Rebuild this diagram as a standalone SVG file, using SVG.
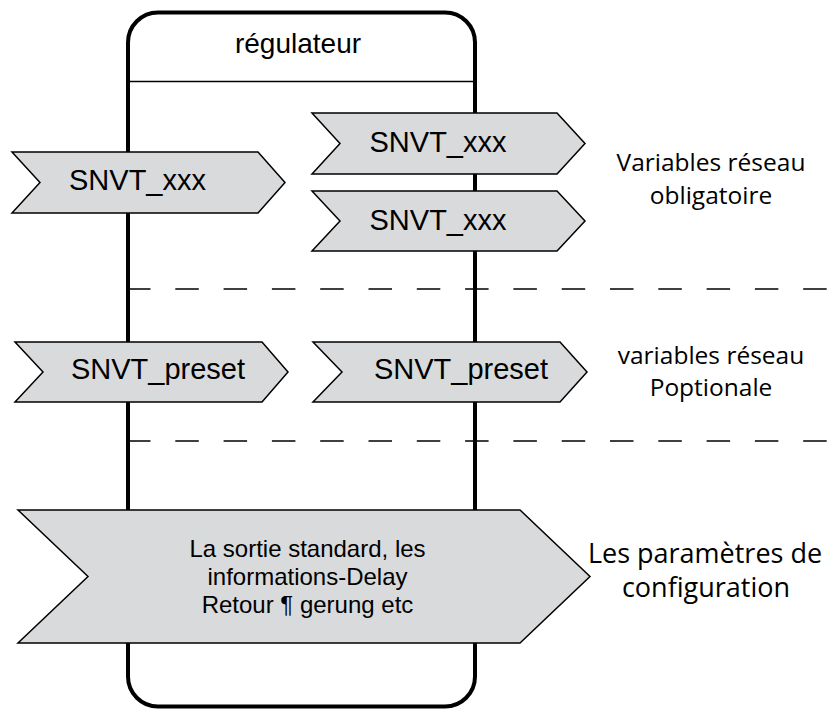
<svg xmlns="http://www.w3.org/2000/svg" width="830" height="711" viewBox="0 0 830 711">
<style>
.chev{fill:#d9dadc;stroke:#000;stroke-width:1.5;stroke-linejoin:miter}
.lbl{font-family:"Liberation Sans",Arial,sans-serif;fill:#000;text-anchor:middle}
.big{font-size:29px}
.side{font-family:"Open Sans","Noto Sans",sans-serif;font-size:24.5px;fill:#000;text-anchor:middle}
.side.lg{font-size:27px}
.dash{stroke:#000;stroke-width:1.5;stroke-dasharray:23.5 24.8;fill:none}
</style>
<rect width="830" height="711" fill="#fff"/>
<g id="regulateur">
<rect x="128" y="12.5" width="347" height="694" rx="30" ry="30" fill="#fff" stroke="#000" stroke-width="4"/>
<line x1="128" y1="81.5" x2="475" y2="81.5" stroke="#000" stroke-width="1.5"/>
<text class="lbl" x="298" y="53" font-size="28">régulateur</text>
</g>
<g id="separators">
<line class="dash" x1="127" y1="289" x2="830" y2="289"/>
<line class="dash" x1="127" y1="441" x2="830" y2="441"/>
</g>
<g id="connectors"></g>
<g id="in-xxx">
<polygon class="chev" points="12,152 258,152 285,182.5 258,213 12,213 40,182.5"/>
<text class="lbl big" x="137.5" y="190">SNVT_xxx</text>
</g>
<g id="out-xxx-1">
<polygon class="chev" points="312,113 557,113 585,143.5 557,174 312,174 340,143.5"/>
<text class="lbl big" x="438" y="152">SNVT_xxx</text>
</g>
<g id="out-xxx-2">
<polygon class="chev" points="312,191 557,191 585,221 557,251 312,251 340,221"/>
<text class="lbl big" x="438" y="230">SNVT_xxx</text>
</g>
<g id="in-preset">
<polygon class="chev" points="15,342 262,342 288,372 262,402 15,402 43,372"/>
<text class="lbl big" x="158" y="379">SNVT_preset</text>
</g>
<g id="out-preset">
<polygon class="chev" points="313,342 560,342 587,372 560,402 313,402 342,372"/>
<text class="lbl big" x="461" y="379">SNVT_preset</text>
</g>
<g id="config">
<polygon class="chev" points="18,510 520,510 590,576.5 520,643 18,643 88,576.5"/>
<text class="lbl" font-size="24" x="307.5" y="557">La sortie standard, les</text>
<text class="lbl" font-size="24" x="307.5" y="585">informations-Delay</text>
<text class="lbl" font-size="24" x="307.5" y="613">Retour ¶ gerung etc</text>
</g>
<g id="label-obligatoire">
<text class="side" x="711" y="171">Variables réseau</text>
<text class="side" x="711" y="204">obligatoire</text>
</g>
<g id="label-optionale">
<text class="side" x="711" y="364">variables réseau</text>
<text class="side" x="711" y="396">Poptionale</text>
</g>
<g id="label-config">
<text class="side lg" x="705" y="563">Les paramètres de</text>
<text class="side lg" x="706" y="597">configuration</text>
</g>
</svg>
